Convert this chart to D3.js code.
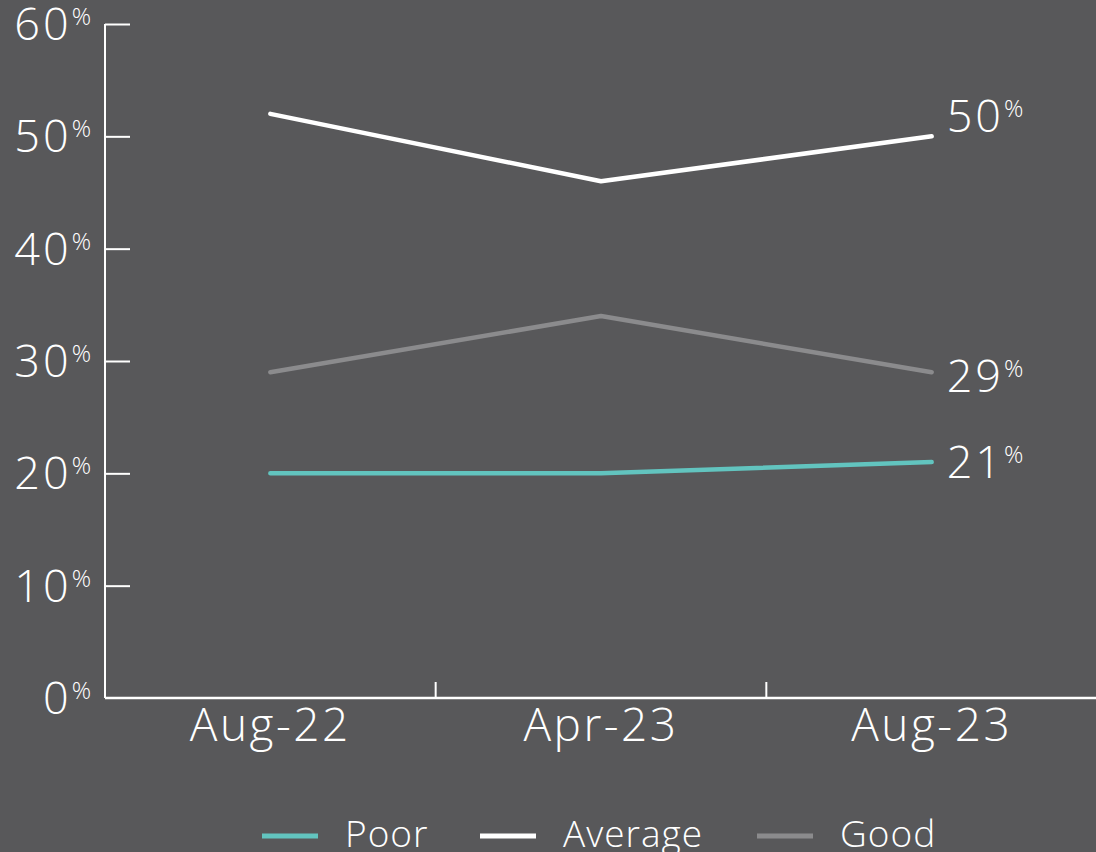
<!DOCTYPE html>
<html>
<head>
<meta charset="utf-8">
<script src="https://cdn.jsdelivr.net/npm/d3@7"></script>
<style>
  html, body { margin: 0; padding: 0; background: #58585a; }
  svg { display: block; }
  text { font-family: "Open Sans", Lato, sans-serif; font-weight: 300; fill: #ffffff; }
</style>
</head>
<body>
<svg id="chart" width="1096" height="852"></svg>
<script>
// Survey waves and share of responses per rating
const periods = ["Aug-22", "Apr-23", "Aug-23"];
const poor = [20, 20, 21];
const average = [52, 46, 50];
const good = [29, 34, 29];
const yTicks = [0, 10, 20, 30, 40, 50, 60];

const series = [
  { name: "Poor", values: poor, color: "#62c4bf", labelDy: 0 },
  { name: "Average", values: average, color: "#ffffff", labelDy: -20 },
  { name: "Good", values: good, color: "#8b8b8d", labelDy: 4 }
];

const svg = d3.select("#chart");
const W = 1096, H = 852;
const plot = { left: 105, top: 24, bottom: 698, right: 1097 };

const x = d3.scaleBand().domain(periods).range([plot.left, plot.right]).padding(0);
const y = d3.scaleLinear().domain([0, 60]).range([plot.bottom, plot.top]);

// value with a small raised percent sign
function pctText(sel, v, big, small, raise) {
  sel.text(null);
  sel.append("tspan").attr("font-size", big).attr("letter-spacing", 3).text(v);
  sel.append("tspan").attr("font-size", small).attr("letter-spacing", 0)
    .attr("dy", -raise).text("%");
}

// y axis: line with inward ticks
const yAxis = svg.append("g").attr("transform", `translate(${plot.left},0)`)
  .call(d3.axisRight(y).tickValues(yTicks).tickSize(25).tickFormat(""));
yAxis.select(".domain").attr("stroke", "#fff").attr("stroke-width", 2).attr("d", `M0,${plot.top}V${plot.bottom}`);
yAxis.selectAll(".tick line").attr("stroke", "#fff").attr("stroke-width", 2);
yAxis.selectAll(".tick").filter(d => d === 0).select("line").remove();

// y tick labels
svg.append("g").selectAll("text").data(yTicks).join("text")
  .attr("x", 91).attr("y", d => y(d) + 16)
  .attr("text-anchor", "end")
  .each(function(d) { pctText(d3.select(this), d, 45, 24, 15); });

// x axis: baseline with separators between periods
const xAxis = svg.append("g").attr("transform", `translate(0,${plot.bottom})`);
xAxis.append("line").attr("x1", plot.left).attr("x2", W).attr("stroke", "#fff").attr("stroke-width", 2.5);
xAxis.selectAll("line.sep").data(periods.slice(1)).join("line")
  .attr("class", "sep")
  .attr("x1", d => x(d)).attr("x2", d => x(d))
  .attr("y1", 0).attr("y2", -16)
  .attr("stroke", "#fff").attr("stroke-width", 2);
xAxis.selectAll("text").data(periods).join("text")
  .attr("x", d => x(d) + x.bandwidth() / 2)
  .attr("y", 43)
  .attr("text-anchor", "middle")
  .attr("font-size", 46)
  .attr("letter-spacing", 2.5)
  .text(d => d);

// lines
const line = d3.line()
  .x((d, i) => x(periods[i]) + x.bandwidth() / 2)
  .y(d => y(d));

svg.append("g").selectAll("path").data(series).join("path")
  .attr("d", s => line(s.values))
  .attr("fill", "none")
  .attr("stroke", s => s.color)
  .attr("stroke-width", 4.5)
  .attr("stroke-linecap", "round")
  .attr("stroke-linejoin", "round");

// end labels
const last = periods.length - 1;
svg.append("g").selectAll("text").data(series).join("text")
  .attr("x", x(periods[last]) + x.bandwidth() / 2 + 15)
  .attr("y", s => y(s.values[last]) + 16 + s.labelDy)
  .each(function(s) { pctText(d3.select(this), s.values[last], 45, 24, 15); });

// legend
const legend = svg.append("g").attr("transform", "translate(0,836)");
const legX = [262, 480, 757];
const items = legend.selectAll("g").data(series).join("g")
  .attr("transform", (d, i) => `translate(${legX[i]},0)`);
items.append("line").attr("x1", 0).attr("x2", 56)
  .attr("stroke", d => d.color).attr("stroke-width", 5);
items.append("text").attr("x", 83).attr("y", 11)
  .attr("font-size", 37).attr("letter-spacing", 1).text(d => d.name);
</script>
</body>
</html>
